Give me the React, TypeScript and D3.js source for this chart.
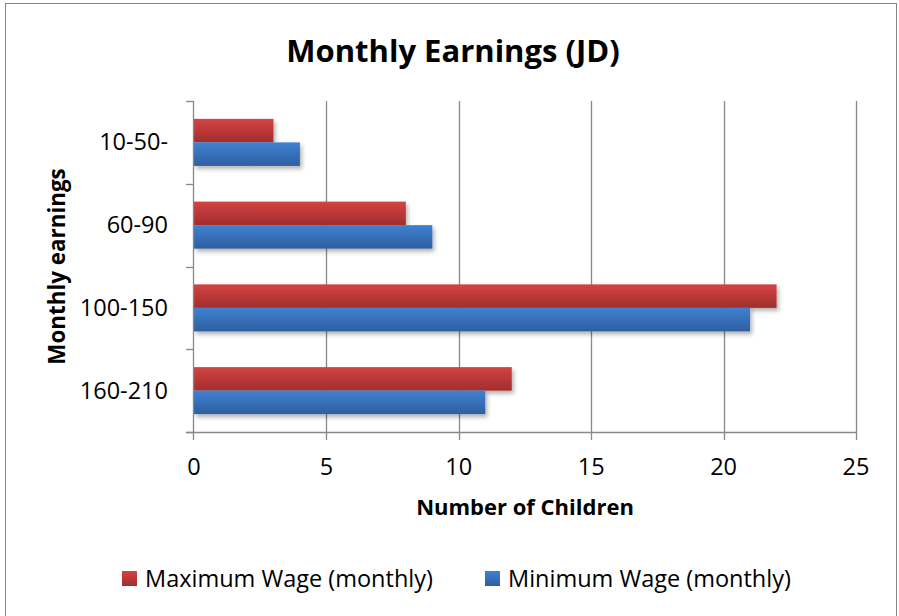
import React from "react";
import * as d3 from "d3";

const categories = ["10-50-", "60-90", "100-150", "160-210"];
const seriesNames = ["Maximum Wage (monthly)", "Minimum Wage (monthly)"];
const maxWage = [3, 8, 22, 12];
const minWage = [4, 9, 21, 11];
const xTicks = [0, 5, 10, 15, 20, 25];

const W = 899;
const H = 616;
const FONT = "'Open Sans', sans-serif";

export default function App() {
  const x = d3.scaleLinear().domain([0, 25]).range([194, 856]);
  const y = d3.scaleBand<string>().domain(categories).range([101, 432]).paddingInner(0).paddingOuter(0);
  const sub = d3.scaleBand<string>().domain(seriesNames).range([0, y.bandwidth()]).paddingInner(0).paddingOuter(0.76);
  const values = [maxWage, minWage];
  const gradIds = ["gradRed", "gradBlue"];
  const boundaries = categories.map((c) => y(c)!).concat([y.range()[1]]);
  const [top, bottom] = y.range();

  return (
    <div style={{ position: "absolute", left: 0, top: 0 }}>
      <svg width={W} height={H} style={{ display: "block", background: "#fff" }}>
        <defs>
          <linearGradient id="gradRed" x1="0" y1="0" x2="0" y2="1">
            <stop offset="0" stopColor="#d44343" />
            <stop offset="1" stopColor="#a22d2d" />
          </linearGradient>
          <linearGradient id="gradBlue" x1="0" y1="0" x2="0" y2="1">
            <stop offset="0" stopColor="#3f81d2" />
            <stop offset="1" stopColor="#2e5f9f" />
          </linearGradient>
          <filter id="shadow" x="-10%" y="-20%" width="130%" height="160%">
            <feDropShadow dx="2" dy="3" stdDeviation="2" floodColor="#000" floodOpacity="0.3" />
          </filter>
        </defs>
        <rect x={5.5} y={3.5} width={891} height={H + 10} fill="#fff" stroke="#868686" strokeWidth={1} />

        <text x={453} y={62} textAnchor="middle" fontFamily={FONT} fontWeight="bold" fontSize={31} fill="#000">
          Monthly Earnings (JD)
        </text>

        {/* gridlines */}
        {xTicks.filter((t) => t > 0).map((t) => (
          <line key={"g" + t} x1={Math.round(x(t)) + 0.5} x2={Math.round(x(t)) + 0.5} y1={top} y2={bottom + 8} stroke="#888" strokeWidth={1.3} />
        ))}

        {/* bars */}
        {categories.map((c, i) => (
          <g key={c} filter="url(#shadow)">
            {seriesNames.map((s, k) => (
              <rect
                key={s}
                x={x(0)}
                y={y(c)! + sub(s)!}
                width={x(values[k][i]) - x(0)}
                height={sub.bandwidth()}
                fill={`url(#${gradIds[k]})`}
              />
            ))}
          </g>
        ))}

        {/* y axis */}
        <line x1={x(0) - 0.5} x2={x(0) - 0.5} y1={top} y2={bottom + 8} stroke="#888" strokeWidth={1.3} />
        {boundaries.map((b, i) => (
          <line key={"yt" + i} x1={186} x2={x(0)} y1={Math.round(b) + 0.5} y2={Math.round(b) + 0.5} stroke="#888" strokeWidth={1.3} />
        ))}
        {/* x axis */}
        <line x1={186} x2={x(25)} y1={bottom + 0.5} y2={bottom + 0.5} stroke="#888" strokeWidth={1.3} />

        {categories.map((c) => (
          <text key={"l" + c} x={168} y={y(c)! + y.bandwidth() / 2 + 8} textAnchor="end" fontFamily={FONT} fontSize={23.5} fill="#000">
            {c}
          </text>
        ))}
        {xTicks.map((t) => (
          <text key={"xl" + t} x={x(t)} y={475} textAnchor="middle" fontFamily={FONT} fontSize={23.5} fill="#000">
            {t}
          </text>
        ))}
        <text x={(x(0) + x(25)) / 2} y={515} textAnchor="middle" fontFamily={FONT} fontWeight="bold" fontSize={22} fill="#000">
          Number of Children
        </text>
        <text transform={`translate(65, ${(top + bottom) / 2}) rotate(-90)`} textAnchor="middle" fontFamily={FONT} fontWeight="bold" fontSize={22.4} fill="#000">
          Monthly earnings
        </text>

        {/* legend */}
        {seriesNames.map((s, k) => {
          const lx = [122, 485][k];
          return (
            <g key={"lg" + s}>
              <rect x={lx} y={571} width={15} height={15} fill={`url(#${gradIds[k]})`} />
              <text x={lx + 23} y={587} fontFamily={FONT} fontSize={23.5} fill="#000">
                {s}
              </text>
            </g>
          );
        })}
      </svg>
    </div>
  );
}
